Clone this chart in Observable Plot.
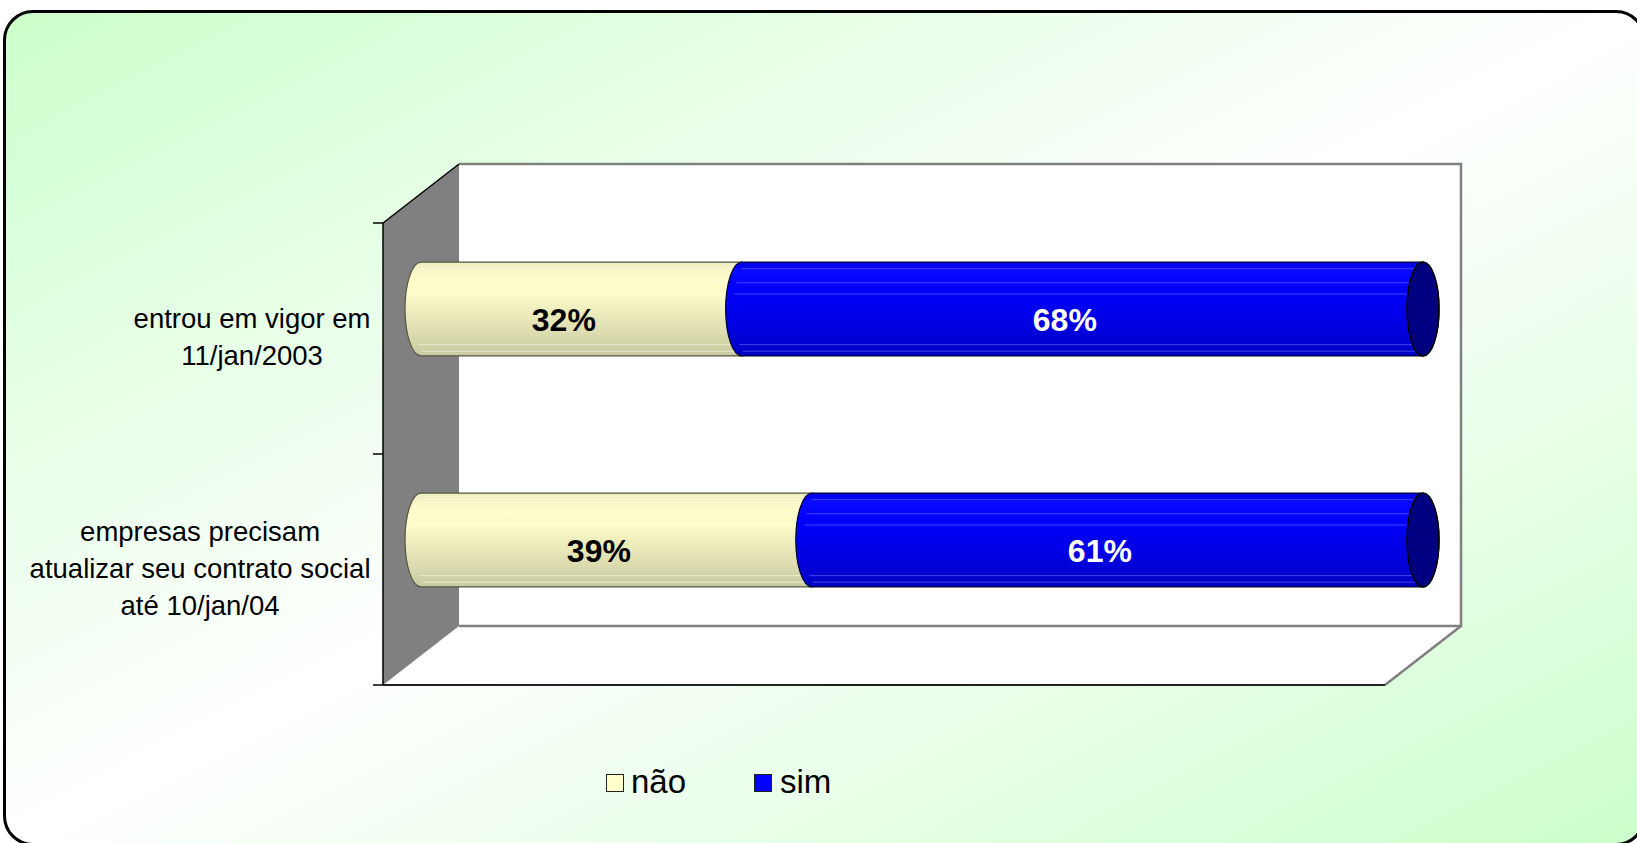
<!DOCTYPE html>
<html>
<head>
<meta charset="utf-8">
<script src="https://cdn.jsdelivr.net/npm/d3@7"></script>
<script src="https://cdn.jsdelivr.net/npm/@observablehq/plot@0.6"></script>
<style>
  html, body { margin: 0; padding: 0; width: 1637px; height: 843px; overflow: hidden; background: #ffffff; }
  #bg { position: absolute; left: 3px; top: 10px; width: 1643px; height: 836px; box-sizing: border-box;
        border: 3px solid #000; border-radius: 30px;
        background: linear-gradient(to bottom right, #ccffcc 0%, #ffffff 50%, #ccffcc 100%); }
  #chart { position: absolute; left: 0; top: 0; }
  #legend { position: absolute; left: 0; top: 0; font-family: "Liberation Sans", Arial, sans-serif; }
  .lg-box { position: absolute; width: 16px; height: 16px; border: 1px solid #222; }
  .lg-txt { position: absolute; font-size: 33px; line-height: 33px; color: #000; white-space: nowrap; }
</style>
</head>
<body>
<div id="bg"></div>
<div id="chart"></div>
<div id="legend"></div>
<script>
// ---- data ----
const categories = [
  "entrou em vigor em\n11/jan/2003",
  "empresas precisam\natualizar seu contrato social\naté 10/jan/04"
];
const series = ["não", "sim"];
const naoValues = [32, 39];
const simValues = [68, 61];
const seriesColors = ["#ffffcc", "#0000ff"];

// ---- derived table (stacked) ----
const seriesValues = [naoValues, simValues];
const table = categories.flatMap((c, i) => {
  let acc = 0;
  return series.map((s, j) => {
    const v = seriesValues[j][i];
    const row = {category: c, series: s, value: v, x1: acc, x2: acc + v};
    acc += v;
    return row;
  });
});

// ---- geometry / style ----
const W = 1637, H = 843;
const DX = 76, DY = -59;           // 3D depth offset
const FONT = "'Liberation Sans', Arial, sans-serif";
const LABEL_SIZE = 27.5;

function bandwidthOf(scales, dims) {
  if (scales.y && typeof scales.y.bandwidth === "function" && scales.y.bandwidth() > 0) return scales.y.bandwidth();
  return (dims.height - dims.marginTop - dims.marginBottom) / categories.length;
}
function bandStart(scales, dims, c) {
  const bw = bandwidthOf(scales, dims);
  return dims.marginTop + categories.indexOf(c) * bw;
}

// 3D walls + floor + ticks
function box3d(index, scales, values, dims) {
  const x = scales.x;
  const xl = x(0), xr = x(100);
  const yt = dims.marginTop, yb = dims.height - dims.marginBottom;
  const bw = bandwidthOf(scales, dims);
  const g = d3.create("svg:g");
  g.append("rect").attr("x", xl + DX).attr("y", yt + DY).attr("width", xr - xl).attr("height", yb - yt).attr("fill", "#fff");
  g.append("path").attr("d", `M${xl},${yb}L${xl + DX},${yb + DY}L${xr + DX},${yb + DY}L${xr},${yb}Z`).attr("fill", "#fff");
  g.append("path").attr("d", `M${xl + DX},${yt + DY}H${xr + DX}V${yb + DY}H${xl + DX}`)
    .attr("fill", "none").attr("stroke", "#808080").attr("stroke-width", 2.5);
  g.append("line").attr("x1", xr + DX).attr("y1", yb + DY).attr("x2", xr).attr("y2", yb)
    .attr("stroke", "#808080").attr("stroke-width", 2.5);
  g.append("line").attr("x1", xl).attr("y1", yb).attr("x2", xr).attr("y2", yb)
    .attr("stroke", "#222").attr("stroke-width", 2);
  g.append("path").attr("d", `M${xl},${yt}L${xl + DX},${yt + DY}L${xl + DX},${yb + DY}L${xl},${yb}Z`).attr("fill", "#808080");
  g.append("path").attr("d", `M${xl + DX},${yt + DY}L${xl},${yt}L${xl},${yb}`)
    .attr("fill", "none").attr("stroke", "#000").attr("stroke-width", 1.5);
  for (let k = 0; k <= categories.length; k++) {
    const yy = yt + k * bw;
    g.append("line").attr("x1", xl - 10).attr("x2", xl).attr("y1", yy).attr("y2", yy)
      .attr("stroke", "#000").attr("stroke-width", 1.5);
  }
  return g.node();
}

// cylinder bars
function cylinders(index, scales, values, dims) {
  const x = scales.x;
  const bw = bandwidthOf(scales, dims);
  const g = d3.create("svg:g");
  const defs = g.append("defs");
  const grad = (id, stops) => {
    const lg = defs.append("linearGradient").attr("id", id)
      .attr("x1", 0).attr("y1", 0).attr("x2", 0).attr("y2", 1);
    stops.forEach(([o, c]) => lg.append("stop").attr("offset", o).attr("stop-color", c));
  };
  grad("grad-nao", [[0, "#ededc2"], [0.1, "#f6f6c8"], [0.2, "#ffffcc"], [0.35, "#fbfbc9"], [0.55, "#ebebbb"], [0.8, "#d9d9ae"], [1, "#c9c9a2"]]);
  grad("grad-sim", [[0, "#0000e6"], [0.1, "#0a0aff"], [0.3, "#0000fa"], [0.65, "#0000e4"], [1, "#0000c4"]]);
  const fills = {"não": "url(#grad-nao)", "sim": "url(#grad-sim)"};
  const strokes = {"não": "#555540", "sim": "#000030"};
  const bands = {"não": "rgba(255,255,230,0.55)", "sim": "rgba(120,120,255,0.55)"};
  const bandFr = [0.07, 0.22, 0.34, 0.88, 0.95];
  const r = bw * 0.203, rx = 16;
  table.forEach((d, i) => {
    const cy = bandStart(scales, dims, d.category) + bw / 2 + DY / 2;
    const a = x(d.x1) + DX / 2, b = x(d.x2) + DX / 2;
    g.append("path")
      .attr("d", `M${a},${cy - r}A${rx},${r} 0 0 0 ${a},${cy + r}L${b},${cy + r}A${rx},${r} 0 0 0 ${b},${cy - r}Z`)
      .attr("fill", fills[d.series]).attr("stroke", strokes[d.series]).attr("stroke-width", 1.2);
    bandFr.forEach(f => {
      const yy = cy - r + f * 2 * r;
      const t = (yy - cy) / r;
      const off = rx * Math.sqrt(Math.max(0, 1 - t * t));
      g.append("line").attr("x1", a - off + 8).attr("x2", b - 2).attr("y1", yy).attr("y2", yy)
        .attr("stroke", bands[d.series]).attr("stroke-width", 1);
    });
    const last = i + 1 >= table.length || table[i + 1].category !== d.category;
    if (last) {
      g.append("ellipse").attr("cx", b).attr("cy", cy).attr("rx", rx).attr("ry", r)
        .attr("fill", "#000080").attr("stroke", "#000").attr("stroke-width", 1.5);
    }
  });
  return g.node();
}

// label centering (lines centered, block right edge near axis)
const ctx = document.createElement("canvas").getContext("2d");
ctx.font = `${LABEL_SIZE}px 'Liberation Sans', Arial`;
const labelDx = categories.map(c => {
  const w = Math.max(...c.split("\n").map(s => ctx.measureText(s).width));
  return -13 - w / 2;
});

const marks = [
  box3d,
  cylinders,
  ...categories.map((c, i) => Plot.text([c], {
    y: d => d, text: d => d, frameAnchor: "left", textAnchor: "middle",
    dx: labelDx[i], dy: -4, fontSize: LABEL_SIZE, lineHeight: 1.35, fill: "#000"
  })),
  Plot.text(table.filter(d => d.series === "não"), {
    x: d => (d.x1 + d.x2) / 2, y: "category", text: d => d.value + "%",
    dx: 20, dy: -18.5, fontSize: 32, fontWeight: "bold", fill: "#000"
  }),
  Plot.text(table.filter(d => d.series === "sim"), {
    x: d => (d.x1 + d.x2) / 2, y: "category", text: d => d.value + "%",
    dx: 20, dy: -18.5, fontSize: 32, fontWeight: "bold", fill: "#fff"
  })
];

const chart = Plot.plot({
  width: W, height: H,
  marginLeft: 383, marginRight: 252, marginTop: 223, marginBottom: 158,
  x: {domain: [0, 100], axis: null},
  y: {type: "band", domain: categories, padding: 0, axis: null},
  style: {background: "transparent", fontFamily: FONT, overflow: "visible"},
  marks
});
document.getElementById("chart").appendChild(chart);

// legend (HTML)
const legendPos = [{box: 606, txt: 631}, {box: 754, txt: 780}];
const legend = document.getElementById("legend");
series.forEach((s, i) => {
  const b = document.createElement("div");
  b.className = "lg-box";
  b.style.left = legendPos[i].box + "px"; b.style.top = "774px"; b.style.background = seriesColors[i];
  legend.appendChild(b);
  const t = document.createElement("div");
  t.className = "lg-txt";
  t.style.left = legendPos[i].txt + "px"; t.style.top = "765px";
  t.textContent = s;
  legend.appendChild(t);
});
</script>
</body>
</html>
